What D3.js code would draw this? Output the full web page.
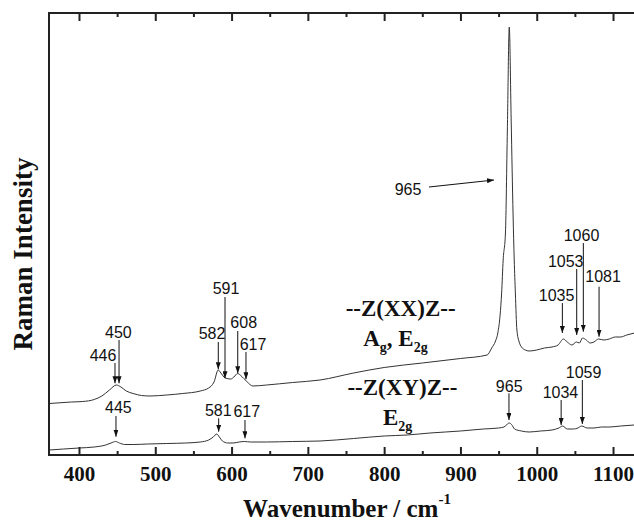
<!DOCTYPE html>
<html>
<head>
<meta charset="utf-8">
<script src="https://cdn.jsdelivr.net/npm/d3@7"></script>
<style>
  body { margin: 0; background: #fff; }
</style>
</head>
<body>
<div id="chart"></div>
<script>
// Raman spectra, --Z(XX)Z-- (upper) and --Z(XY)Z-- (lower), arbitrary intensity units
const wnXX = [361, 390, 405, 420, 430, 440, 449, 455, 462, 471, 482, 493, 515, 536, 559, 570, 577, 582.5, 586, 590,
  594, 599, 603, 608, 612, 616, 620, 628, 646, 680, 716, 760, 800, 850, 900, 935, 941, 946, 949, 952,
  954, 956, 959, 961.5, 964, 966.5, 969, 970.5, 972, 974, 977, 980, 985, 990, 1000, 1010, 1020, 1028, 1035, 1040,
  1046, 1052, 1056, 1060, 1065, 1070, 1075, 1081, 1088, 1095, 1103, 1110, 1118, 1128];
const intXX = [515, 530, 535, 555, 590, 650, 700, 680, 640, 615, 595, 590, 600, 615, 640, 670, 730, 850, 820, 780,
  765, 760, 780, 815, 795, 765, 735, 690, 700, 725, 750, 820, 875, 920, 965, 1000, 1070, 1140, 1220, 1400,
  1620, 1950, 2220, 3250, 4280, 3350, 2400, 1950, 1620, 1250, 1130, 1080, 1050, 1040, 1050, 1070, 1080, 1100, 1160, 1130,
  1100, 1130, 1120, 1170, 1150, 1120, 1130, 1160, 1150, 1160, 1180, 1180, 1200, 1220];

const wnXY = [361, 380, 400, 420, 435, 442, 448, 453, 460, 472, 490, 515, 540, 559, 570, 576, 580.5, 584, 588, 595,
  602, 610, 617, 625, 646, 680, 716, 760, 800, 830, 860, 900, 930, 950, 957, 961, 964, 967, 971, 980,
  990, 1005, 1020, 1029, 1034, 1040, 1048, 1054, 1059, 1066, 1075, 1085, 1095, 1110, 1128];
const intXY = [50, 60, 70, 80, 100, 120, 135, 120, 105, 105, 110, 115, 120, 130, 150, 180, 210, 180, 140, 120,
  120, 130, 135, 130, 130, 135, 140, 165, 190, 200, 220, 240, 260, 270, 280, 305, 320, 305, 260, 240,
  230, 240, 250, 270, 290, 260, 260, 270, 290, 270, 270, 280, 280, 290, 300];

const majorTicks = [400, 500, 600, 700, 800, 900, 1000, 1100];
const minorTicks = [450, 550, 650, 750, 850, 950, 1050];

// peak labels: [label, arrow wavenumber, tail intensity, tip intensity, text wavenumber, text intensity]
const notesXX = [
  ["446", 447.2, 920, 717, 431.5, 943],
  ["450", 452.5, 1150, 717, 451.6, 1167],
  ["582", 582.6, 1130, 857, 574.4, 1160],
  ["591", 591.4, 1580, 767, 592.7, 1610],
  ["608", 608.1, 1240, 817, 615.9, 1267],
  ["617", 618.9, 1030, 757, 628.1, 1050],
  ["1035", 1033.6, 1520, 1220, 1026, 1540],
  ["1053", 1052.4, 1860, 1200, 1038, 1883],
  ["1060", 1061.1, 2120, 1233, 1058.7, 2143],
  ["1081", 1081.7, 1683, 1183, 1087, 1733]
];
const notesXY = [
  ["445", 448.5, 390, 183, 451.6, 417],
  ["581", 583.1, 367, 233, 582.6, 390],
  ["617", 617.6, 350, 167, 620, 383],
  ["965", 963.6, 617, 350, 963.9, 633],
  ["1034", 1032, 550, 300, 1031.1, 567],
  ["1059", 1059.8, 750, 310, 1061.4, 767]
];
// main peak label with slanted arrow: [label, text wn, text I, tail wn, tail I, tip wn, tip I]
const mainPeak = ["965", 831.3, 2600, 858.8, 2680, 944, 2750];

// polarisation / symmetry labels: [wavenumber, intensity, parts (text, isSubscript)]
const modeLabels = [
  [821.6, 1390, [["--Z(XX)Z--", false]]],
  [814.8, 1090, [["A", false], ["g", true], [", E", false], ["2g", true]]],
  [823.9, 600, [["--Z(XY)Z--", false]]],
  [817.7, 300, [["E", false], ["2g", true]]]
];

const width = 634, height = 524;
const margin = { left: 49, top: 13, right: 0, bottom: 69 };
const serif = '"Liberation Serif", "Times New Roman", serif';
const sans = '"Liberation Sans", Arial, sans-serif';

const svg = d3.select('#chart')
  .append('svg')
  .attr('width', width)
  .attr('height', height)
  .style('display', 'block');

const x = d3.scaleLinear()
  .domain([360.7, 1127.5])
  .range([margin.left, width - margin.right]);

const y = d3.scaleLinear()
  .domain([0, 4420])
  .range([height - margin.bottom, margin.top]);

svg.append('defs').append('clipPath')
  .attr('id', 'plot-clip')
  .append('rect')
  .attr('x', margin.left)
  .attr('y', margin.top)
  .attr('width', width - margin.left)
  .attr('height', height - margin.bottom - margin.top);

const marker = svg.select('defs').append('marker')
  .attr('id', 'arrow')
  .attr('viewBox', '0 0 10 10')
  .attr('refX', 10)
  .attr('refY', 5)
  .attr('markerUnits', 'userSpaceOnUse')
  .attr('markerWidth', 7)
  .attr('markerHeight', 5)
  .attr('preserveAspectRatio', 'none')
  .attr('orient', 'auto');
marker.append('path').attr('d', 'M0,0 L10,5 L0,10 z').attr('fill', '#111');

// spectra
const line = d3.line()
  .x(d => x(d[0]))
  .y(d => y(d[1]))
  .curve(d3.curveMonotoneX);

const spectra = [d3.zip(wnXX, intXX), d3.zip(wnXY, intXY)];
svg.append('g')
  .attr('clip-path', 'url(#plot-clip)')
  .selectAll('path')
  .data(spectra)
  .enter()
  .append('path')
  .attr('d', line)
  .attr('fill', 'none')
  .attr('stroke', '#333')
  .attr('stroke-width', 1);

// axes: ticks point inward, top and bottom
const y0 = height - margin.bottom;
const bottomMajor = svg.append('g')
  .attr('transform', `translate(0,${y0})`)
  .call(d3.axisBottom(x).tickValues(majorTicks).tickSize(-8).tickPadding(11).tickFormat(d3.format('d')));
const bottomMinor = svg.append('g')
  .attr('transform', `translate(0,${y0})`)
  .call(d3.axisBottom(x).tickValues(minorTicks).tickSize(-4).tickFormat(''));
const topMajor = svg.append('g')
  .attr('transform', `translate(0,${margin.top})`)
  .call(d3.axisTop(x).tickValues(majorTicks).tickSize(-8).tickFormat(''));
const topMinor = svg.append('g')
  .attr('transform', `translate(0,${margin.top})`)
  .call(d3.axisTop(x).tickValues(minorTicks).tickSize(-4).tickFormat(''));

[bottomMajor, bottomMinor, topMajor, topMinor].forEach(g => {
  g.select('.domain').remove();
  g.selectAll('.tick line').attr('stroke', '#222').attr('stroke-width', 2);
});
bottomMajor.selectAll('.tick text')
  .attr('fill', '#111')
  .style('font-family', serif)
  .style('font-weight', 'bold')
  .style('font-size', '21px');

// frame (left, top, bottom)
svg.append('path')
  .attr('d', `M${width},${margin.top} H${margin.left} V${y0} H${width}`)
  .attr('fill', 'none')
  .attr('stroke', '#222')
  .attr('stroke-width', 2);

// axis titles
const xTitle = svg.append('text')
  .attr('x', 347)
  .attr('y', 517)
  .attr('text-anchor', 'middle')
  .attr('fill', '#111')
  .style('font-family', serif)
  .style('font-weight', 'bold')
  .style('font-size', '25px')
  .text('Wavenumber / cm');
xTitle.append('tspan')
  .attr('dy', -13)
  .style('font-size', '15px')
  .text('-1');

svg.append('text')
  .attr('transform', 'translate(32,254) rotate(-90)')
  .attr('text-anchor', 'middle')
  .attr('fill', '#111')
  .style('font-family', serif)
  .style('font-weight', 'bold')
  .style('font-size', '27px')
  .text('Raman Intensity');

// peak annotations
const notes = notesXX.concat(notesXY);
const ann = svg.append('g');
ann.selectAll('line')
  .data(notes)
  .enter()
  .append('line')
  .attr('x1', d => x(d[1]))
  .attr('x2', d => x(d[1]))
  .attr('y1', d => y(d[2]))
  .attr('y2', d => y(d[3]))
  .attr('stroke', '#111')
  .attr('stroke-width', 1)
  .attr('marker-end', 'url(#arrow)');
ann.selectAll('text')
  .data(notes)
  .enter()
  .append('text')
  .attr('x', d => x(d[4]))
  .attr('y', d => y(d[5]))
  .attr('text-anchor', 'middle')
  .attr('fill', '#111')
  .style('font-family', sans)
  .style('font-size', '16px')
  .text(d => d[0]);

ann.append('line')
  .attr('x1', x(mainPeak[3]))
  .attr('y1', y(mainPeak[4]))
  .attr('x2', x(mainPeak[5]))
  .attr('y2', y(mainPeak[6]))
  .attr('stroke', '#111')
  .attr('stroke-width', 1)
  .attr('marker-end', 'url(#arrow)');
ann.append('text')
  .attr('x', x(mainPeak[1]))
  .attr('y', y(mainPeak[2]))
  .attr('text-anchor', 'middle')
  .attr('fill', '#111')
  .style('font-family', sans)
  .style('font-size', '16px')
  .text(mainPeak[0]);

// mode labels
modeLabels.forEach(([wn, val, parts]) => {
  const t = svg.append('text')
    .attr('x', x(wn))
    .attr('y', y(val))
    .attr('text-anchor', 'middle')
    .attr('fill', '#111')
    .style('font-family', serif)
    .style('font-weight', 'bold')
    .style('font-size', '23px');
  let shifted = false;
  parts.forEach(([str, sub]) => {
    const dy = sub && !shifted ? 6 : (!sub && shifted ? -6 : 0);
    shifted = sub;
    t.append('tspan')
      .attr('dy', dy)
      .style('font-size', sub ? '14px' : '23px')
      .text(str);
  });
});
</script>
</body>
</html>
